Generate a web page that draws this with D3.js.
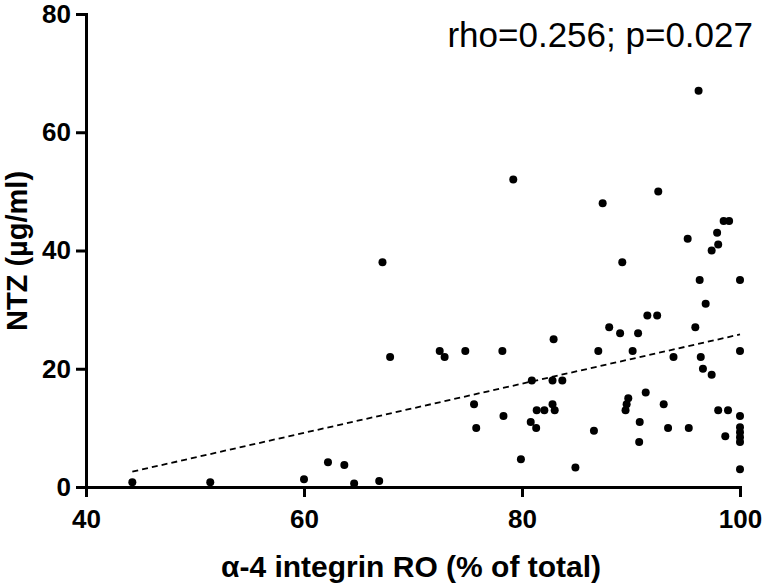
<!DOCTYPE html>
<html>
<head>
<meta charset="utf-8">
<script src="https://cdn.jsdelivr.net/npm/d3@7"></script>
<style>
  html, body { margin: 0; padding: 0; background: #fff; }
  svg { display: block; }
  text { font-family: "Liberation Sans", Arial, sans-serif; }
</style>
</head>
<body>
<svg id="chart" width="765" height="585"></svg>
<script>
// ---- data ----
const roPercent = [
  44.25, 51.4, 60.0, 62.2, 63.7, 64.6, 66.9, 67.2, 67.9, 72.45,
  72.9, 74.8, 78.2, 79.2, 82.9, 87.0, 80.9, 82.8, 83.7, 75.6,
  78.3, 75.8, 81.35, 82.05, 82.8, 83.0, 80.8, 81.3, 86.6, 79.9,
  84.9, 96.2, 92.5, 87.4, 98.5, 99.0, 97.9, 95.2, 98.0, 97.4,
  89.2, 96.3, 100, 96.85, 91.5, 92.4, 88.0, 95.9, 89.0, 90.65,
  90.15, 100, 93.9, 96.4, 96.6, 97.4, 91.35, 89.75, 89.6, 89.5,
  93.0, 98.0, 98.9, 100, 90.8, 93.4, 95.3, 100, 98.65, 100,
  100, 100, 90.75, 100
];
const ntzLevel = [
  0.8, 0.8, 1.3, 4.2, 3.7, 0.6, 1.0, 38, 22, 23,
  22, 23, 23, 52, 25, 23, 18, 18, 18, 14,
  12, 10, 13, 13, 14, 13, 11, 10, 9.5, 4.7,
  3.3, 67, 50, 48, 45, 45, 43, 42, 41, 40,
  38, 35, 35, 31, 29, 29, 27, 27, 26, 26,
  23, 23, 22, 22, 20, 19, 16, 15, 14, 13,
  14, 13, 13, 12, 11, 10, 10, 10.1, 8.6, 9.25,
  8.4, 7.6, 7.6, 3.0
];
const fitX = [44.25, 100];
const fitY = [2.6, 25.8];
const xTicks = [40, 60, 80, 100];
const yTicks = [0, 20, 40, 60, 80];
const statsLabel = "rho=0.256; p=0.027";
const xTitle = "\u03B1-4 integrin RO (% of total)";
const yTitle = "NTZ (\u00B5g/ml)";

// ---- chart ----
const svg = d3.select("#chart");
const x = d3.scaleLinear().domain([40, 100]).range([86, 740]);
const y = d3.scaleLinear().domain([0, 80]).range([487, 14]);

const xAxis = svg.append("g")
  .attr("transform", `translate(0,${y(0)})`)
  .call(d3.axisBottom(x).tickValues(xTicks).tickSize(10).tickSizeOuter(0).tickPadding(13));
const yAxis = svg.append("g")
  .attr("transform", `translate(${x(40)},0)`)
  .call(d3.axisLeft(y).tickValues(yTicks).tickSize(10).tickSizeOuter(0).tickPadding(5));

[xAxis, yAxis].forEach(g => {
  g.select(".domain").attr("stroke", "#000").attr("stroke-width", 3).attr("stroke-linecap", "square");
  g.selectAll(".tick line").attr("stroke", "#000").attr("stroke-width", 3);
  g.selectAll(".tick text")
    .attr("fill", "#000")
    .style("font-family", "'Liberation Sans', Arial, sans-serif")
    .style("font-size", "26px")
    .style("font-weight", "bold");
});

// regression line
svg.append("line")
  .attr("x1", x(fitX[0])).attr("y1", y(fitY[0]))
  .attr("x2", x(fitX[1])).attr("y2", y(fitY[1]))
  .attr("stroke", "#000")
  .attr("stroke-width", 1.8)
  .attr("stroke-dasharray", "6,4");

// points
svg.append("g").selectAll("circle")
  .data(roPercent.map((v, i) => [v, ntzLevel[i]]))
  .join("circle")
  .attr("cx", d => x(d[0]))
  .attr("cy", d => y(d[1]))
  .attr("r", 4)
  .attr("fill", "#000");

// stats label
svg.append("text")
  .attr("x", 753).attr("y", 47)
  .attr("text-anchor", "end")
  .style("font-size", "35px")
  .attr("fill", "#000")
  .text(statsLabel);

// axis titles
svg.append("text")
  .attr("x", 411).attr("y", 577)
  .attr("text-anchor", "middle")
  .style("font-size", "30px")
  .style("font-weight", "bold")
  .attr("fill", "#000")
  .text(xTitle);

svg.append("text")
  .attr("transform", `translate(27,${251}) rotate(-90)`)
  .attr("text-anchor", "middle")
  .style("font-size", "29px")
  .style("font-weight", "bold")
  .attr("fill", "#000")
  .text(yTitle);
</script>
</body>
</html>
